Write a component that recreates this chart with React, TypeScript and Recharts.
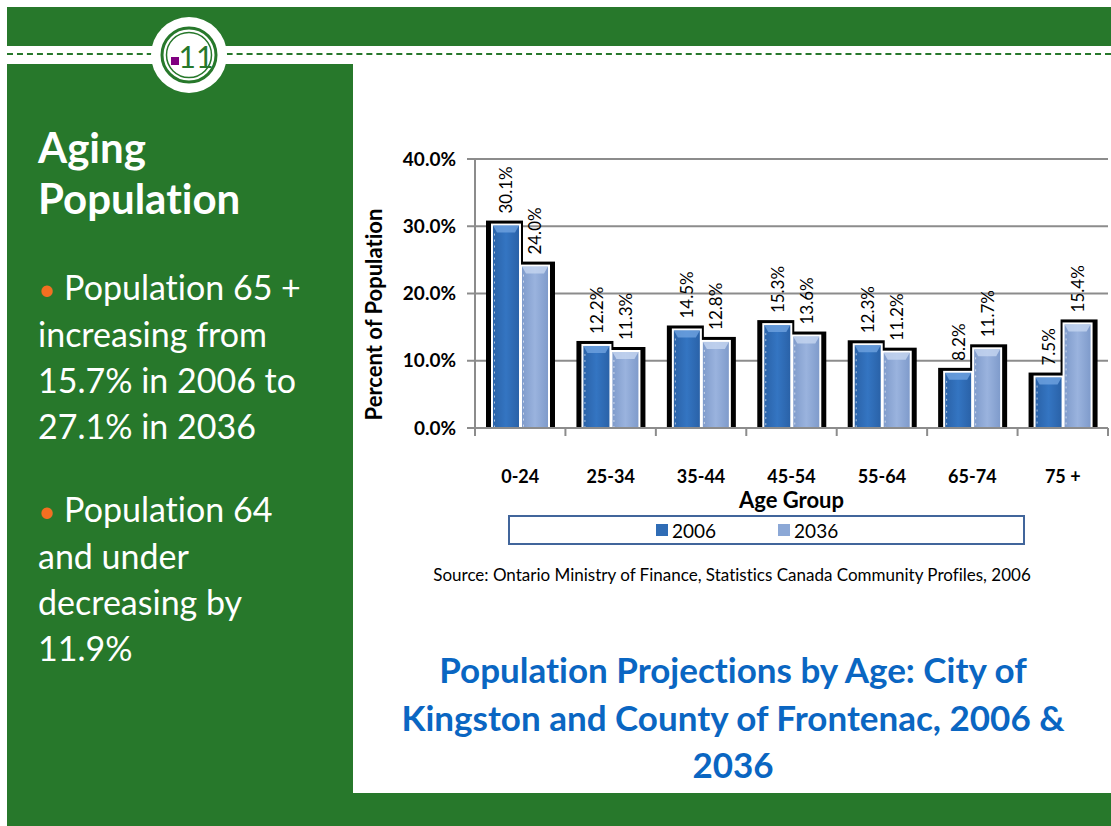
import { Bar, BarChart, CartesianGrid, Legend, XAxis, YAxis } from 'recharts';

const categories = ['0-24', '25-34', '35-44', '45-54', '55-64', '65-74', '75 +'];
const pct2006 = [30.1, 12.2, 14.5, 15.3, 12.3, 8.2, 7.5];
const pct2036 = [24.0, 11.3, 12.8, 13.6, 11.2, 11.7, 15.4];
const yTicks = [0, 10, 20, 30, 40];

const data = categories.map((age, i) => ({ age, y2006: pct2006[i], y2036: pct2036[i] }));

const FONT = "Lato, 'Noto Sans', sans-serif";
const NO_LIGA = '"liga" 0, "clig" 0, "dlig" 0, "calt" 0';
const GREEN = '#27782b';
const GRID = '#8c8c8c';
const BAR_GAP = 3;

function fmt(v: number) {
  return v.toFixed(1) + '%';
}

// 2006 bar draws the black outline for both bars of its cluster, so the
// 2036 bar painted later never covers it
function Bar2006(props: any) {
  const { x, y, width, height, payload } = props;
  if (!height) return null;
  const bottom = y + height;
  const perUnit = height / payload.y2006;
  const y2 = bottom - payload.y2036 * perUnit;
  const x2 = x + width + BAR_GAP;
  return (
    <g>
      <rect x={x - 7} y={y - 5} width={width + 11} height={bottom - y + 5} fill="#000" />
      <rect x={x2 - 4} y={y2 - 5} width={width + 11} height={bottom - y2 + 5} fill="#000" />
      <rect x={x - 2} y={y - 2} width={width + 4} height={height + 2} fill="#fff" />
      <rect x={x} y={y} width={width} height={height} fill="url(#g2006)" />
      <polygon points={`${x},${y} ${x + width},${y} ${x + width - 4},${y + 7} ${x + 4},${y + 7}`} fill="#6fa3e0" opacity={0.8} />
      <line x1={x + 1.5} y1={y + 8} x2={x + 1.5} y2={bottom} stroke="#fff" strokeDasharray="2 4" opacity={0.6} />
    </g>
  );
}

function Bar2036(props: any) {
  const { x, y, width, height } = props;
  if (!height) return null;
  const bottom = y + height;
  return (
    <g>
      <rect x={x - 2} y={y - 2} width={width + 4} height={height + 2} fill="#fff" />
      <rect x={x} y={y} width={width} height={height} fill="url(#g2036)" />
      <polygon points={`${x},${y} ${x + width},${y} ${x + width - 4},${y + 7} ${x + 4},${y + 7}`} fill="#c6d6f0" opacity={0.8} />
      <line x1={x + 1.5} y1={y + 8} x2={x + 1.5} y2={bottom} stroke="#fff" strokeDasharray="2 4" opacity={0.6} />
    </g>
  );
}

function makeLabel(key: 'y2006' | 'y2036') {
  return function ValueLabel(props: any) {
    const { x, y, width, index } = props;
    const v = key === 'y2006' ? pct2006[index] : pct2036[index];
    const cx = x + width / 2;
    const ty = y - 12;
    return (
      <text
        x={cx}
        y={ty}
        transform={`rotate(-90, ${cx}, ${ty})`}
        textAnchor="start"
        dominantBaseline="central"
        fontFamily={FONT}
        fontSize={17}
        fill="#000"
      >
        {fmt(v)}
      </text>
    );
  };
}

function AgeTick({ x, y, payload, index }: any) {
  const half = payload?.offset || 45.2;
  const axisY = y - 10;
  return (
    <g>
      <line x1={x - half} y1={axisY} x2={x - half} y2={axisY + 8} stroke={GRID} strokeWidth={2} />
      {index === categories.length - 1 && (
        <line x1={x + half} y1={axisY} x2={x + half} y2={axisY + 8} stroke={GRID} strokeWidth={2} />
      )}
      <text x={x} y={axisY + 48} textAnchor="middle" dominantBaseline="central" fontFamily={FONT} fontWeight={700} fontSize={18} fill="#000">
        {payload.value}
      </text>
      {index === 3 && (
        <text x={x} y={axisY + 71} textAnchor="middle" dominantBaseline="central" fontFamily={FONT} fontWeight={700} fontSize={22} fill="#000">
          Age Group
        </text>
      )}
    </g>
  );
}

function YTitle({ viewBox }: any) {
  const cx = viewBox.x;
  const cy = viewBox.y + viewBox.height / 2 + 21;
  return (
    <text x={cx} y={cy} transform={`rotate(-90, ${cx}, ${cy})`} textAnchor="middle" dominantBaseline="central" fontFamily={FONT} fontWeight={700} fontSize={22} fill="#000" style={{ fontFeatureSettings: NO_LIGA }}>
      Percent of Population
    </text>
  );
}

function LegendBox() {
  const item = (label: string, grad: string) => (
    <span style={{ display: 'inline-flex', alignItems: 'center', gap: 4 }}>
      <svg width={12} height={12}>
        <rect x={0} y={0} width={12} height={12} fill={grad} />
      </svg>
      <span>{label}</span>
    </span>
  );
  return (
    <div
      style={{
        boxSizing: 'border-box',
        height: 30,
        border: '2px solid #41659b',
        display: 'flex',
        alignItems: 'center',
        paddingLeft: 146,
        gap: 62,
        fontFamily: FONT,
        fontSize: 19,
        color: '#000',
      }}
    >
      {item('2006', '#2f6cb5')}
      {item('2036', '#8ca8d6')}
    </div>
  );
}

export default function App() {
  return (
    <div style={{ position: 'absolute', left: 0, top: 0, width: 1111, height: 826, background: '#fff', overflow: 'hidden', fontFamily: FONT, fontFeatureSettings: NO_LIGA }}>
      <div style={{ position: 'absolute', left: 7, top: 7, width: 1104, height: 819, background: GREEN }} />
      <div style={{ position: 'absolute', left: 7, top: 46, width: 1104, height: 18, background: '#fff' }} />
      <div style={{ position: 'absolute', left: 7, top: 53, width: 1104, height: 0, borderTop: `2px dashed ${GREEN}` }} />
      <div style={{ position: 'absolute', left: 353, top: 64, width: 758, height: 729, background: '#fff' }} />

      <svg style={{ position: 'absolute', left: 0, top: 0 }} width={260} height={110}>
        <circle cx={189} cy={55} r={38} fill="#fff" />
        <circle cx={189} cy={55} r={27} fill="none" stroke={GREEN} strokeWidth={3} />
        <circle cx={189} cy={55} r={22.5} fill="none" stroke={GREEN} strokeWidth={1.5} />
        <rect x={171} y={57} width={8} height={8} fill="#800080" />
        <text x={196} y={56} textAnchor="middle" dominantBaseline="central" fontFamily={FONT} fontSize={30} fill={GREEN}>
          11
        </text>
      </svg>

      <div style={{ position: 'absolute', left: 38, top: 122, color: '#fff', fontWeight: 700, fontSize: 42, lineHeight: '51px' }}>
        Aging
        <br />
        Population
      </div>
      <div style={{ position: 'absolute', left: 38, top: 264, width: 310, color: '#fff', fontSize: 34, lineHeight: '46px' }}>
        <span style={{ color: '#f36f21', fontSize: 30 }}>•</span> Population 65 +<br />
        increasing from<br />
        15.7% in 2006 to<br />
        27.1% in 2036
      </div>
      <div style={{ position: 'absolute', left: 38, top: 486, width: 310, color: '#fff', fontSize: 34, lineHeight: '46px' }}>
        <span style={{ color: '#f36f21', fontSize: 30 }}>•</span> Population 64<br />
        and under<br />
        decreasing by<br />
        11.9%
      </div>

      <div style={{ position: 'absolute', left: 353, top: 130 }}>
        <BarChart
          width={758}
          height={430}
          data={data}
          margin={{ top: 29, right: 3, bottom: 15, left: 20 }}
          barSize={26}
          barGap={BAR_GAP}
        >
          <defs>
            <linearGradient id="g2006" x1="0" y1="0" x2="1" y2="0">
              <stop offset="0" stopColor="#2a62a8" />
              <stop offset="0.5" stopColor="#3475c2" />
              <stop offset="1" stopColor="#2a62a8" />
            </linearGradient>
            <linearGradient id="g2036" x1="0" y1="0" x2="1" y2="0">
              <stop offset="0" stopColor="#7f9bcb" />
              <stop offset="0.5" stopColor="#9ab3de" />
              <stop offset="1" stopColor="#7f9bcb" />
            </linearGradient>
          </defs>
          <CartesianGrid vertical={false} stroke={GRID} strokeWidth={2} />
          <XAxis
            dataKey="age"
            height={87}
            axisLine={{ stroke: GRID, strokeWidth: 2 }}
            tickLine={false}
            tickSize={0}
            tickMargin={10}
            interval={0}
            tick={<AgeTick />}
          />
          <YAxis
            domain={[0, 40]}
            ticks={yTicks}
            width={102}
            interval={0}
            tickFormatter={fmt}
            axisLine={{ stroke: GRID, strokeWidth: 2 }}
            tickLine={{ stroke: GRID, strokeWidth: 2 }}
            tickSize={8}
            tickMargin={11}
            tick={{ fontFamily: FONT, fontWeight: 700, fontSize: 19, fill: '#000' }}
            label={<YTitle />}
          />
          <Legend verticalAlign="bottom" content={<LegendBox />} wrapperStyle={{ left: 155, width: 517 }} />
          <Bar dataKey="y2006" name="2006" shape={<Bar2006 />} label={makeLabel('y2006')} isAnimationActive={false} />
          <Bar dataKey="y2036" name="2036" shape={<Bar2036 />} label={makeLabel('y2036')} isAnimationActive={false} />
        </BarChart>
      </div>

      <div style={{ position: 'absolute', left: 353, top: 564, width: 758, textAlign: 'center', fontSize: 17, color: '#000' }}>
        Source: Ontario Ministry of Finance, Statistics Canada Community Profiles, 2006
      </div>
      <div style={{ position: 'absolute', left: 360, top: 646, width: 746, textAlign: 'center', fontSize: 35, fontWeight: 700, lineHeight: '47.5px', color: '#0a66c2' }}>
        Population Projections by Age: City of
        <br />
        Kingston and County of Frontenac, 2006 &amp;
        <br />
        2036
      </div>
    </div>
  );
}
